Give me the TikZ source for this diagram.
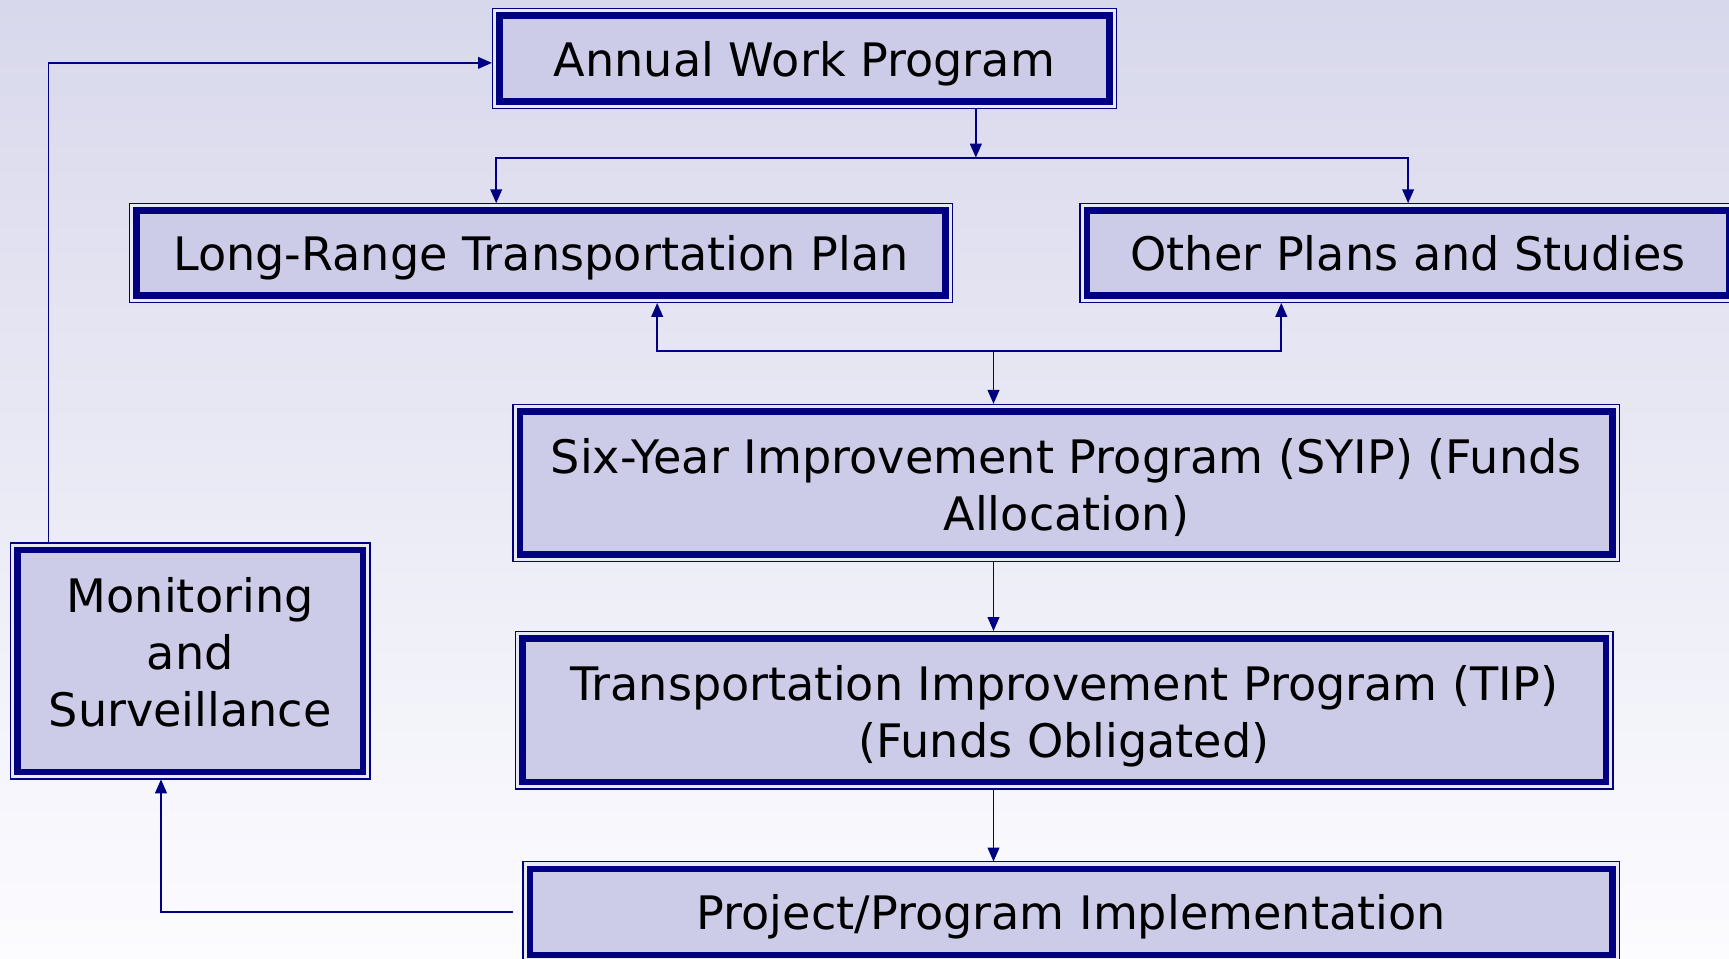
\documentclass[tikz,border=0pt]{standalone}
\usepackage{fontspec}
\setmainfont{DejaVu Sans}
\definecolor{navy}{RGB}{0,0,128}
\definecolor{boxfill}{RGB}{204,204,232}
\definecolor{gapfill}{RGB}{232,232,246}
\definecolor{bgtop}{RGB}{216,216,236}
\definecolor{bgbottom}{RGB}{252,252,255}
\usetikzlibrary{arrows.meta}
\usetikzlibrary{positioning}
\tikzstyle{base}=[x=0.01cm, y=-0.01cm, inner sep=0pt]
\tikzstyle{stage}=[preaction={draw=navy, line width=4pt}, preaction={draw=gapfill, line width=3.3pt}, draw=navy, line width=1.7pt, fill=boxfill, outer sep=1.9pt, align=center, text depth=0pt, text height=9.1pt, font=\fontsize{11.9}{14.8}\selectfont]
\tikzstyle{link}=[navy, line width=0.5pt, -{Triangle[length=3.6pt, width=3pt]}]

\begin{document}
\begin{tikzpicture}[base]
    \useasboundingbox (0,0) rectangle (1568,869);
    \shade [top color=bgtop, bottom color=bgbottom] (0,0) rectangle (1568,869);
    \node [stage, minimum width=5.53cm, minimum height=0.78cm] (awp) at (729.5,53) {Annual Work Program};
    \node [stage, minimum width=7.33cm, minimum height=0.77cm] (lrtp) at (490.5,229.5) {Long-Range Transportation Plan};
    \node [stage, minimum width=5.82cm, minimum height=0.77cm] (ops) at (1277,229.5) {Other Plans and Studies};
    \node [stage, text height=24.6pt, minimum width=9.90cm, minimum height=1.30cm] (syip) at (967,438) {Six-Year Improvement Program (SYIP) (Funds\\Allocation)};
    \node [stage, text height=24.6pt, minimum width=9.82cm, minimum height=1.30cm] (tip) at (965,644) {Transportation Improvement Program (TIP)\\(Funds Obligated)};
    \node [stage, minimum width=9.81cm, minimum height=0.78cm] (ppi) at (971.5,827) {Project/Program Implementation};
    \node [stage, text height=33.9pt, minimum width=3.13cm, minimum height=2.01cm] (ms) at (172.5,599.5) {Monitoring\\and\\Surveillance};
    \coordinate (split) at (885,143);
    \coordinate (lrtpin) at (450,143);
    \coordinate (merge) at (901,318);
    \coordinate (lrtpout) at (596,318);
    \coordinate (opsout) at (1162,318);
    \coordinate (back) at (146,825);
    \coordinate (up) at (44,57);
    \draw [link] (awp.south -| split) -- (split);
    \draw [link] (split) -- (lrtpin) -- (lrtpin |- lrtp.north);
    \draw [link] (split) -| (ops.north);
    \draw [link] (merge) -- (merge |- syip.north);
    \draw [link] (merge) -- (lrtpout) -- (lrtpout |- lrtp.south);
    \draw [link] (merge) -- (opsout) -- (opsout |- ops.south);
    \draw [link] (syip.south -| merge) -- (tip.north -| merge);
    \draw [link] (tip.south -| merge) -- (ppi.north -| merge);
    \draw [link] ([xshift=-0.09cm]ppi.west) -| (back |- ms.south);
    \draw [link] (ms.north -| up) -- (up) -- (up -| awp.west);
\end{tikzpicture}
\end{document}
